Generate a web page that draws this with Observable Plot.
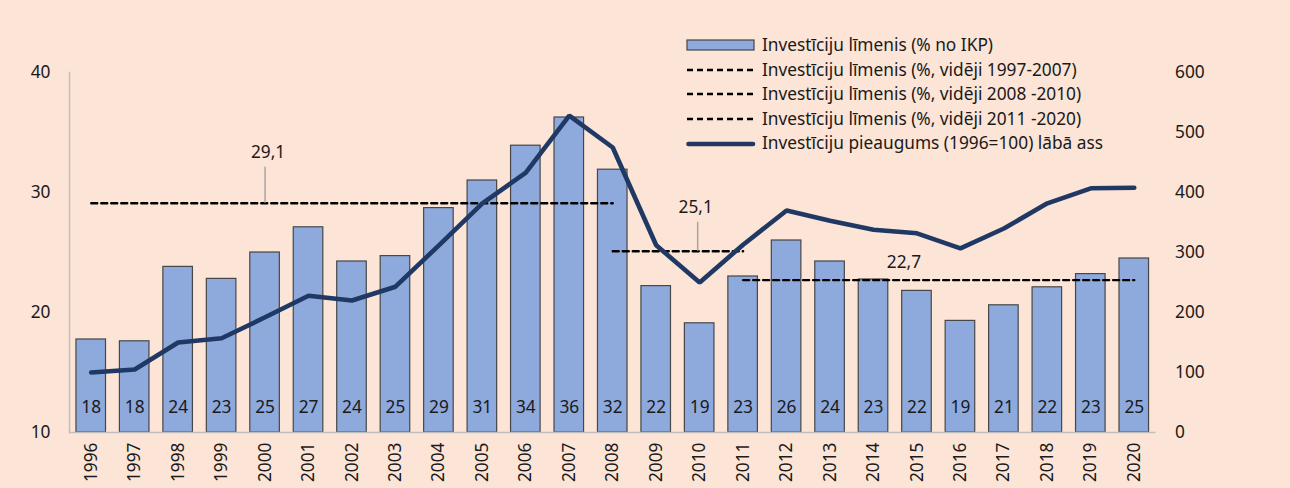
<!DOCTYPE html>
<html>
<head>
<meta charset="utf-8">
<script src="https://cdn.jsdelivr.net/npm/d3@7"></script>
<script src="https://cdn.jsdelivr.net/npm/@observablehq/plot@0.6"></script>
<style>
  html, body { margin: 0; padding: 0; background: #FCE4D6; }
  #wrap { position: relative; width: 1290px; height: 488px; background: #FCE4D6; overflow: hidden;
          font-family: "Noto Sans", "Open Sans", sans-serif; color: #1a1a1a; }
  #legend { position: absolute; left: 686px; top: 33px; font-size: 17.3px; line-height: 24.6px; }
  #legend .row { display: flex; align-items: center; white-space: nowrap; height: 24.6px; }
  #legend svg { width: 70px; height: 16px; margin-right: 6px; flex: none; }
</style>
</head>
<body>
<div id="wrap">
  <div id="chart"></div>
  <div id="legend"></div>
</div>
<script>
// ---- data ----
const years = ["1996","1997","1998","1999","2000","2001","2002","2003","2004","2005","2006","2007","2008",
               "2009","2010","2011","2012","2013","2014","2015","2016","2017","2018","2019","2020"];
// Investment level (% of GDP) — left axis
const investLevel = [17.75, 17.6, 23.8, 22.8, 25.0, 27.1, 24.25, 24.7, 28.7, 31.0, 33.9, 36.25, 31.9,
                     22.2, 19.1, 23.0, 26.0, 24.25, 22.75, 21.8, 19.3, 20.6, 22.1, 23.2, 24.5];
const barLabels = ["18","18","24","23","25","27","24","25","29","31","34","36","32",
                   "22","19","23","26","24","23","22","19","21","22","23","25"];
// Investment growth (1996=100) — right axis
const growthIndex = [100, 105, 150, 157, 192, 228, 220, 243, 312, 382, 433, 528, 475,
                     312, 250, 313, 370, 353, 338, 332, 307, 340, 382, 407, 408];
// Period averages
const avgNames  = ["1997-2007", "2008-2010", "2011-2020"];
const avgFrom   = ["1996", "2008", "2011"];
const avgTo     = ["2008", "2011", "2020"];
const avgValues = [29.1, 25.1, 22.7];
const avgLabels = ["29,1", "25,1", "22,7"];
const avgLabelYear = ["2000", "2010", "2015"];
// Axes
const leftTicks = [10, 20, 30, 40];
const rightTicks = [0, 100, 200, 300, 400, 500, 600];
const leftDomain = [10, 40];
const rightDomain = [0, 600];

const legendItems = [
  {label: "Investīciju līmenis (% no IKP)", type: "bar"},
  {label: "Investīciju līmenis (%, vidēji 1997-2007)", type: "dash"},
  {label: "Investīciju līmenis (%, vidēji 2008 -2010)", type: "dash"},
  {label: "Investīciju līmenis (%, vidēji 2011 -2020)", type: "dash"},
  {label: "Investīciju pieaugums (1996=100) lābā ass", type: "line"}
];

// ---- derived tables ----
const toLeft = d3.scaleLinear().domain(rightDomain).range(leftDomain);
const rows = years.map((y, i) => ({year: y, invest: investLevel[i], label: barLabels[i], growth: toLeft(growthIndex[i])}));
const avgSegs = avgValues.flatMap((v, i) => [
  {period: avgNames[i], year: avgFrom[i], value: v},
  {period: avgNames[i], year: avgTo[i], value: v}
]);
const avgAnn = avgValues.map((v, i) => ({year: avgLabelYear[i], value: v, label: avgLabels[i]}));

const BAR = "#8EA9DB", BARSTROKE = "#474747", NAVY = "#203864", AXIS = "#BFBFBF", TXT = "#1a1a1a";
const FONT = "\"Noto Sans\", \"Open Sans\", sans-serif";
const FS = 17.3;

const chart = Plot.plot({
  width: 1290,
  height: 488,
  marginTop: 72,
  marginBottom: 56,
  marginLeft: 69,
  marginRight: 134.5,
  style: {background: "transparent", fontFamily: FONT, fontSize: FS + "px", color: TXT, overflow: "visible"},
  x: {type: "band", domain: years, paddingInner: 0.32, paddingOuter: 0.16, round: false},
  y: {domain: leftDomain},
  marks: [
    Plot.barY(rows, {x: "year", y1: leftDomain[0], y2: "invest", fill: BAR, stroke: BARSTROKE, strokeWidth: 1.2}),
    Plot.text(rows, {x: "year", text: "label", frameAnchor: "bottom", dy: -20, fontSize: FS, fill: TXT}),
    Plot.line(avgSegs, {x: "year", y: "value", z: "period", stroke: "#000", strokeWidth: 2.4, strokeDasharray: "6,4"}),
    Plot.line(rows, {x: "year", y: "growth", stroke: NAVY, strokeWidth: 4.6, strokeLinecap: "round", strokeLinejoin: "miter"}),
    // annotation leaders
    Plot.ruleX(avgAnn.slice(0, 1), {x: "year", y1: "value", y2: "value", insetTop: -36, stroke: "#A6A6A6", strokeWidth: 1.5}),
    Plot.ruleX(avgAnn.slice(1, 2), {x: "year", y1: "value", y2: "value", insetTop: -29, stroke: "#A6A6A6", strokeWidth: 1.5, dx: -2}),
    // annotation labels
    Plot.text(avgAnn.slice(0, 1), {x: "year", y: "value", text: "label", dy: -51, dx: 3, fontSize: FS, fill: TXT}),
    Plot.text(avgAnn.slice(1, 2), {x: "year", y: "value", text: "label", dy: -44, dx: -4, fontSize: FS, fill: TXT}),
    Plot.text(avgAnn.slice(2, 3), {x: "year", y: "value", text: "label", dy: -18, dx: -13, fontSize: FS, fill: TXT}),
    // axes
    Plot.ruleY([leftDomain[0]], {stroke: AXIS, strokeWidth: 1.5}),
    Plot.frame({anchor: "left", stroke: AXIS, strokeWidth: 1.5}),
    Plot.axisY({ticks: leftTicks, tickSize: 0, tickPadding: 19, fontSize: FS, label: null}),
    Plot.axisY({anchor: "right", ticks: rightTicks.map(toLeft), tickFormat: d => String(Math.round(toLeft.invert(d))),
                tickSize: 0, tickPadding: 19, fontSize: FS, label: null}),
    Plot.axisX({tickRotate: -90, tickSize: 0, tickPadding: 10, fontSize: FS, label: null})
  ]
});
document.getElementById("chart").appendChild(chart);

// ---- legend ----
const legend = d3.select("#legend");
for (const item of legendItems) {
  const row = legend.append("div").attr("class", "row");
  const svg = row.append("svg").attr("viewBox", "0 0 70 16");
  if (item.type === "bar") {
    svg.append("rect").attr("x", 1).attr("y", 3).attr("width", 67).attr("height", 10)
      .attr("fill", BAR).attr("stroke", BARSTROKE).attr("stroke-width", 1.2);
  } else if (item.type === "dash") {
    svg.append("line").attr("x1", 1).attr("x2", 68).attr("y1", 8).attr("y2", 8)
      .attr("stroke", "#000").attr("stroke-width", 2.4).attr("stroke-dasharray", "6,4");
  } else {
    svg.append("line").attr("x1", 2.5).attr("x2", 67).attr("y1", 8).attr("y2", 8)
      .attr("stroke", NAVY).attr("stroke-width", 4.6).attr("stroke-linecap", "round");
  }
  row.append("span").text(item.label);
}
</script>
</body>
</html>
